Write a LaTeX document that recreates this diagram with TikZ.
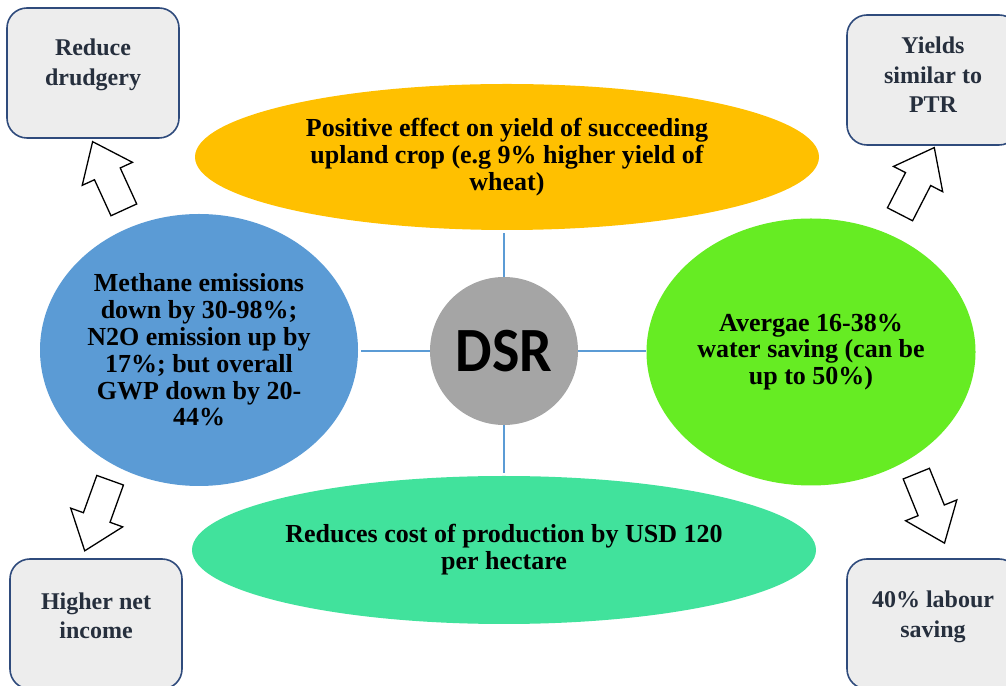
\documentclass[tikz,border=0pt]{standalone}
\usepackage{fontspec}
\setmainfont{Liberation Serif}[BoldFont={Liberation Serif Bold}]
\newfontfamily\dsrfont{Carlito}[BoldFont={Carlito Bold},FakeStretch=0.92]
\usetikzlibrary{positioning,calc,shapes.geometric,shapes.arrows}
\definecolor{ovalyellow}{HTML}{FFC000}
\definecolor{ovalblue}{HTML}{5B9BD5}
\definecolor{ovalgreen}{HTML}{66EC23}
\definecolor{ovalteal}{HTML}{41E29C}
\definecolor{dsrgray}{HTML}{A5A5A5}
\definecolor{boxgray}{HTML}{EDEDED}
\definecolor{boxblue}{HTML}{2F4B7C}
\definecolor{boxtext}{HTML}{262F3D}
\newcommand*{\ovalfont}{\fontsize{26}{26.8}\selectfont\bfseries}

\begin{document}
\begin{tikzpicture}[x=1pt,y=1pt,
  oval/.style={ellipse,inner sep=0pt,align=center,font=\ovalfont},
  benefit/.style={draw=boxblue,line width=1.6pt,fill=boxgray,
                  rounded corners=20pt,minimum width=172pt,minimum height=130pt},
  benefittext/.style={text=boxtext,align=center,
                      font=\fontsize{24}{29.5}\selectfont\bfseries},
  link/.style={draw=ovalblue,line width=1.6pt},
  blockarrow/.style={single arrow,draw=black,line width=1.3pt,fill=white,
                     inner xsep=0pt,inner ysep=13.5pt,
                     single arrow head extend=13.5pt,single arrow tip angle=76,
                     minimum height=75pt}]
\useasboundingbox (0,0) rectangle (1006,685);
% Effects round the centre
\node[oval,fill=ovalyellow,minimum width=624pt,minimum height=146pt] (yellow) at (507,528)
  {Positive effect on yield of succeeding\\upland crop (e.g 9\% higher yield of\\wheat)};
\node[oval,fill=ovalblue,minimum width=318pt,minimum height=272pt] (blue) at (199,335)
  {Methane emissions\\down by 30-98\%;\\N2O emission up by\\17\%; but overall\\GWP down by 20-\\44\%};
\node[oval,fill=ovalgreen,minimum width=329pt,minimum height=267pt] (green) at (811,333)
  {Avergae 16-38\%\\water saving (can be\\up to 50\%)};
\node[oval,fill=ovalteal,minimum width=624pt,minimum height=148pt] (teal) at (504,135)
  {Reduces cost of production by USD 120\\per hectare};
% Centre
\node[circle,fill=dsrgray,minimum size=148pt,inner sep=0pt,
      font=\dsrfont\fontsize{63}{63}\selectfont\bfseries] (dsr) at (504,334) {DSR};
% Links from the centre
\draw[link,shorten >=3pt] (dsr.north) -- (dsr.north |- yellow.south);
\draw[link,shorten >=3pt] (dsr.south) -- (dsr.south |- teal.north);
\draw[link,shorten >=3pt] (dsr.west) -- (dsr.west -| blue.east);
\draw[link] (dsr.east) -- (dsr.east -| green.west);
% Benefit boxes in the corners
\node[benefit] (drudgery) at (93,612) {};
\node[benefittext] (drudgerytext) at ([yshift=8pt]drudgery.center) {Reduce\\drudgery};
\node[benefit] (yields) at (933,605) {};
\node[benefittext] (yieldstext) at ([yshift=5pt]yields.center) {Yields\\similar to\\PTR};
\node[benefit] (income) at (96,61) {};
\node[benefittext] (incometext) at ([yshift=8pt]income.center) {Higher net\\income};
\node[benefit] (labour) at (933,61) {};
\node[benefittext] (labourtext) at ([yshift=7pt]labour.center) {40\% labour\\saving};
% Block arrows from the ovals to the boxes
\node[blockarrow,rotate=114.6] (arrdrudgery) at (112,501) {};
\node[blockarrow,rotate=62.8] (arryields) at (913,496) {};
\node[blockarrow,rotate=250.2] (arrincome) at (100.5,178) {};
\node[blockarrow,rotate=292.1] (arrlabour) at (927,185) {};
\end{tikzpicture}
\end{document}
